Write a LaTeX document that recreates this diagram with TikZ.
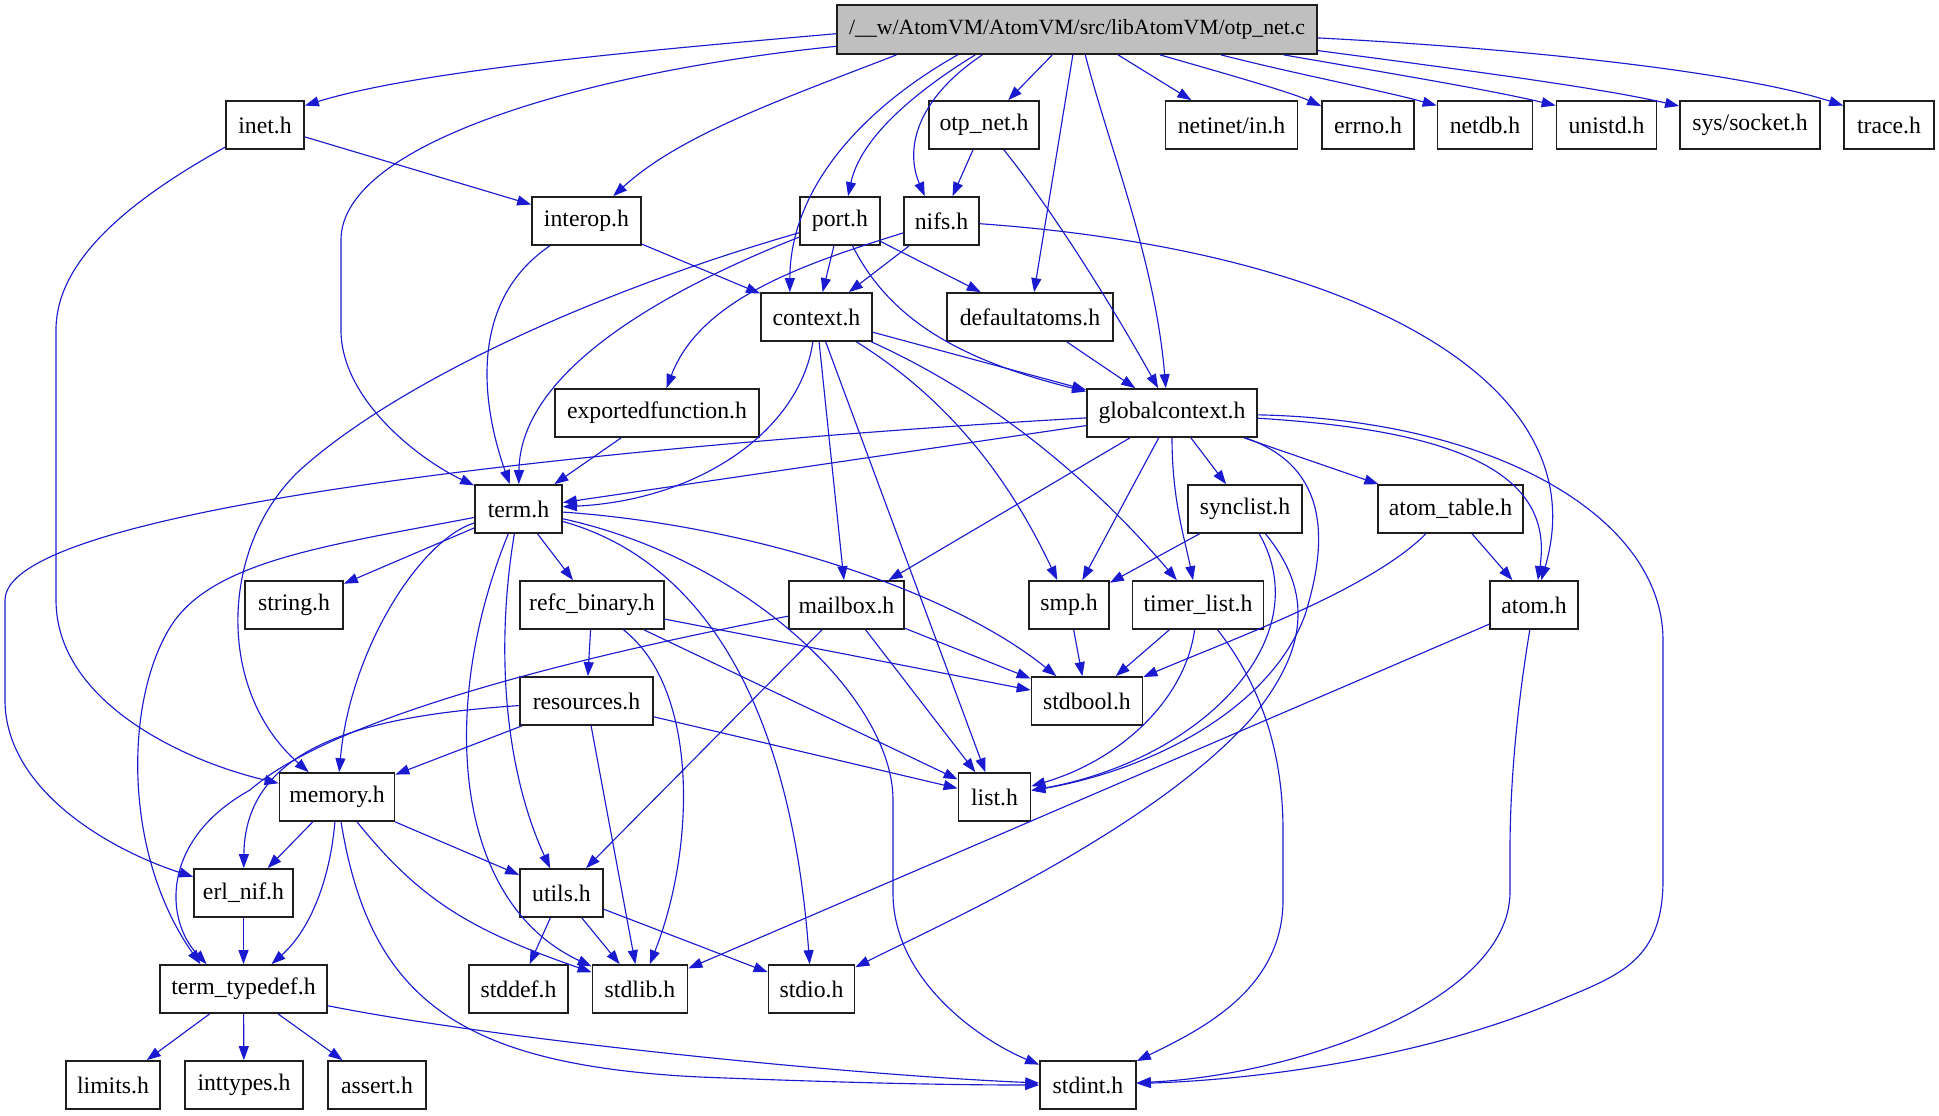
\documentclass[tikz,border=0pt]{standalone}
\usepackage{fontspec}
\setmainfont{Liberation Serif}
\usetikzlibrary{arrows.meta}
\definecolor{edgeblue}{RGB}{26,26,208}
\definecolor{boxline}{RGB}{30,30,30}
\definecolor{rootfill}{RGB}{191,191,191}
\begin{document}
\begin{tikzpicture}[x=0.75pt,y=-0.75pt,
  box/.style={draw=boxline,line width=1.3pt,fill=white,inner sep=0pt,minimum height=36pt,
    font=\fontsize{17.8pt}{21pt}\selectfont},
  wd/.style={minimum width=#1*0.75pt},
  edge/.style={draw=edgeblue,line width=0.85pt,-{Triangle[length=10.5pt,width=7.5pt]}}]
\path[use as bounding box] (0,0) rectangle (1939,1115);
% nodes
\node[box,wd=480,minimum height=36.75pt,fill=rootfill,font=\fontsize{16.3pt}{20pt}\selectfont] (otp) at (1077,29.5) {/\_\_w/AtomVM/AtomVM/src/libAtomVM/otp\_net.c};
\node[box,wd=78] (inet) at (265,125) {inet.h};
\node[box,wd=110] (otpneth) at (984,125) {otp\_net.h};
\node[box,wd=132] (netinet) at (1231.5,125) {netinet/in.h};
\node[box,wd=92] (errno) at (1368,125) {errno.h};
\node[box,wd=95] (netdb) at (1485,125) {netdb.h};
\node[box,wd=100] (unistd) at (1606.5,125) {unistd.h};
\node[box,wd=140] (socket) at (1750,125) {sys/socket.h};
\node[box,wd=90] (trace) at (1889,125) {trace.h};
\node[box,wd=109] (interop) at (586.5,221) {interop.h};
\node[box,wd=80] (port) at (840,221) {port.h};
\node[box,wd=75] (nifs) at (941.5,221) {nifs.h};
\node[box,wd=111] (context) at (816.5,317) {context.h};
\node[box,wd=166] (defaultatoms) at (1030,317) {defaultatoms.h};
\node[box,wd=204] (exported) at (657,413) {exportedfunction.h};
\node[box,wd=170] (gc) at (1172,413) {globalcontext.h};
\node[box,wd=87] (term) at (518.5,509) {term.h};
\node[box,wd=114] (synclist) at (1245,509) {synclist.h};
\node[box,wd=145] (atomtable) at (1450.5,509) {atom\_table.h};
\node[box,wd=98] (string) at (294,605) {string.h};
\node[box,wd=144] (refc) at (592,605) {refc\_binary.h};
\node[box,wd=115] (mailbox) at (846.5,605) {mailbox.h};
\node[box,wd=80] (smp) at (1069,605) {smp.h};
\node[box,wd=131] (timerlist) at (1198,605) {timer\_list.h};
\node[box,wd=88] (atom) at (1534,605) {atom.h};
\node[box,wd=133] (resources) at (586.5,701) {resources.h};
\node[box,wd=111] (stdbool) at (1087,701) {stdbool.h};
\node[box,wd=115] (memory) at (337,797) {memory.h};
\node[box,wd=72] (list) at (994.5,797) {list.h};
\node[box,wd=99] (erlnif) at (243.5,893) {erl\_nif.h};
\node[box,wd=83] (utils) at (561.5,893) {utils.h};
\node[box,wd=167] (termtypedef) at (243.5,989) {term\_typedef.h};
\node[box,wd=99] (stddef) at (518.5,989) {stddef.h};
\node[box,wd=95] (stdlib) at (640,989) {stdlib.h};
\node[box,wd=86] (stdio) at (811.5,989) {stdio.h};
\node[box,wd=94] (limits) at (113,1085) {limits.h};
\node[box,wd=118] (inttypes) at (244,1085) {inttypes.h};
\node[box,wd=98] (assert) at (377,1085) {assert.h};
\node[box,wd=96] (stdint) at (1088,1085) {stdint.h};
% edges from otp_net.c
\draw[edge] (otp.181.5) .. controls (650,50) and (420,70) .. (inet.26);
\draw[edge] (otp.184) .. controls (600,70) and (341,140) .. (341,240) -- (341,330) .. controls (341,400) and (420,460) .. (term.152);
\draw[edge] (otp.188) .. controls (780,100) and (680,135) .. (interop.43);
\draw[edge] (otp.192) .. controls (860,110) and (790,190) .. (context.137);
\draw[edge] (otp.194) .. controls (910,95) and (860,140) .. (port.72);
\draw[edge] (otp.195.5) .. controls (915,100) and (905,150) .. (nifs.124);
\draw[edge] (otp) -- (otpneth);
\draw[edge] (otp) -- (defaultatoms);
\draw[edge] (otp.288) .. controls (1110,150) and (1155,260) .. (gc.104);
\draw[edge] (otp) -- (netinet);
\draw[edge] (otp.343) .. controls (1230,75) and (1290,92) .. (errno.158);
\draw[edge] (otp.350) .. controls (1300,75) and (1380,90) .. (netdb.158);
\draw[edge] (otp.353.5) .. controls (1400,75) and (1490,90) .. (unistd.159);
\draw[edge] (otp.355) .. controls (1480,72) and (1600,88) .. (socket.165);
\draw[edge] (otp.358.5) .. controls (1550,50) and (1750,75) .. (trace.157);
% inet.h
\draw[edge] (inet) -- (interop);
\draw[edge] (inet) .. controls (130,200) and (56,260) .. (56,330) -- (56,600) .. controls (56,700) and (180,760) .. (memory);
% otp_net.h
\draw[edge] (otpneth) -- (nifs);
\draw[edge] (otpneth) .. controls (1060,220) and (1120,320) .. (gc);
% interop.h
\draw[edge] (interop) .. controls (470,300) and (480,400) .. (term);
\draw[edge] (interop) -- (context);
% port.h
\draw[edge] (port) -- (context);
\draw[edge] (port) -- (defaultatoms);
\draw[edge] (port) .. controls (890,320) and (960,360) .. (gc);
\draw[edge] (port) .. controls (640,300) and (520,380) .. (term);
\draw[edge] (port) .. controls (600,290) and (400,380) .. (300,470) .. controls (220,545) and (215,690) .. (memory);
% nifs.h
\draw[edge] (nifs) -- (context);
\draw[edge] (nifs) .. controls (800,265) and (700,300) .. (exported);
\draw[edge] (nifs) .. controls (1350,250) and (1600,380) .. (atom);
% context.h
\draw[edge] (context) -- (gc);
\draw[edge] (context) .. controls (800,430) and (700,500) .. (term);
\draw[edge] (context) -- (mailbox);
\draw[edge] (context) -- (list);
\draw[edge] (context) .. controls (950,400) and (1010,480) .. (smp);
\draw[edge] (context) .. controls (1000,400) and (1100,490) .. (timerlist);
% defaultatoms.h, exportedfunction.h
\draw[edge] (defaultatoms) -- (gc);
\draw[edge] (exported) -- (term);
% globalcontext.h
\draw[edge] (gc) -- (term);
\draw[edge] (gc) .. controls (700,440) and (5,500) .. (5,600) -- (5,700) .. controls (5,790) and (110,850) .. (erlnif);
\draw[edge] (gc) -- (mailbox);
\draw[edge] (gc) -- (smp);
\draw[edge] (gc) .. controls (1172,500) and (1185,540) .. (timerlist);
\draw[edge] (gc) -- (synclist);
\draw[edge] (gc) -- (atomtable);
\draw[edge] (gc) .. controls (1340,470) and (1322,560) .. (1305,615) .. controls (1270,710) and (1150,770) .. (list);
\draw[edge] (gc) .. controls (1450,430) and (1555,470) .. (atom);
\draw[edge] (gc) .. controls (1500,420) and (1663,520) .. (1663,640) -- (1663,880) .. controls (1663,960) and (1620,975) .. (1560,1000) .. controls (1420,1060) and (1250,1080) .. (stdint);
% term.h
\draw[edge] (term) -- (string);
\draw[edge] (term) -- (refc);
\draw[edge] (term) .. controls (420,540) and (350,650) .. (memory);
\draw[edge] (term) .. controls (330,545) and (220,560) .. (175,620) .. controls (125,690) and (120,850) .. (termtypedef.150);
\draw[edge] (term) .. controls (495,650) and (505,770) .. (utils);
\draw[edge] (term) .. controls (440,700) and (450,900) .. (stdlib);
\draw[edge] (term) .. controls (700,560) and (790,700) .. (stdio);
\draw[edge] (term) .. controls (750,560) and (893,700) .. (893,800) -- (893,893) .. controls (893,980) and (980,1040) .. (stdint);
\draw[edge] (term) .. controls (750,525) and (950,590) .. (stdbool);
% synclist.h
\draw[edge] (synclist) -- (smp);
\draw[edge] (synclist) .. controls (1320,640) and (1200,760) .. (list);
\draw[edge] (synclist) .. controls (1320,600) and (1300,660) .. (1250,720) .. controls (1150,830) and (950,920) .. (stdio);
% atom_table.h
\draw[edge] (atomtable) -- (atom);
\draw[edge] (atomtable) .. controls (1370,590) and (1230,640) .. (stdbool);
% refc_binary.h
\draw[edge] (refc) -- (resources);
\draw[edge] (refc) .. controls (700,690) and (695,850) .. (stdlib);
\draw[edge] (refc) -- (list);
\draw[edge] (refc) -- (stdbool);
% mailbox.h
\draw[edge] (mailbox) .. controls (560,660) and (330,720) .. (250,790) .. controls (160,840) and (165,920) .. (termtypedef.146);
\draw[edge] (mailbox) -- (utils);
\draw[edge] (mailbox) -- (list);
\draw[edge] (mailbox) -- (stdbool);
% smp.h, timer_list.h
\draw[edge] (smp) -- (stdbool);
\draw[edge] (timerlist) -- (stdbool);
\draw[edge] (timerlist) .. controls (1185,700) and (1120,760) .. (list);
\draw[edge] (timerlist) .. controls (1265,690) and (1283,760) .. (1283,830) -- (1283,900) .. controls (1283,990) and (1200,1030) .. (stdint);
% atom.h
\draw[edge] (atom) -- (stdlib);
\draw[edge] (atom) .. controls (1518,700) and (1510,780) .. (1510,850) -- (1510,892) .. controls (1510,1000) and (1300,1075) .. (stdint);
% resources.h
\draw[edge] (resources) -- (memory);
\draw[edge] (resources) .. controls (380,715) and (245,740) .. (erlnif);
\draw[edge] (resources) -- (stdlib);
\draw[edge] (resources) -- (list);
% memory.h
\draw[edge] (memory) -- (erlnif);
\draw[edge] (memory) .. controls (330,880) and (310,930) .. (termtypedef);
\draw[edge] (memory) .. controls (370,1000) and (460,1065) .. (700,1077) .. controls (850,1083) and (950,1085) .. (stdint);
\draw[edge] (memory) .. controls (420,900) and (470,930) .. (stdlib);
\draw[edge] (memory) -- (utils);
% erl_nif.h, utils.h
\draw[edge] (erlnif) -- (termtypedef);
\draw[edge] (utils) -- (stddef);
\draw[edge] (utils) -- (stdlib);
\draw[edge] (utils) -- (stdio);
% term_typedef.h
\draw[edge] (termtypedef) -- (limits);
\draw[edge] (termtypedef) -- (inttypes);
\draw[edge] (termtypedef) -- (assert);
\draw[edge] (termtypedef) .. controls (500,1040) and (850,1075) .. (stdint);
\end{tikzpicture}
\end{document}
